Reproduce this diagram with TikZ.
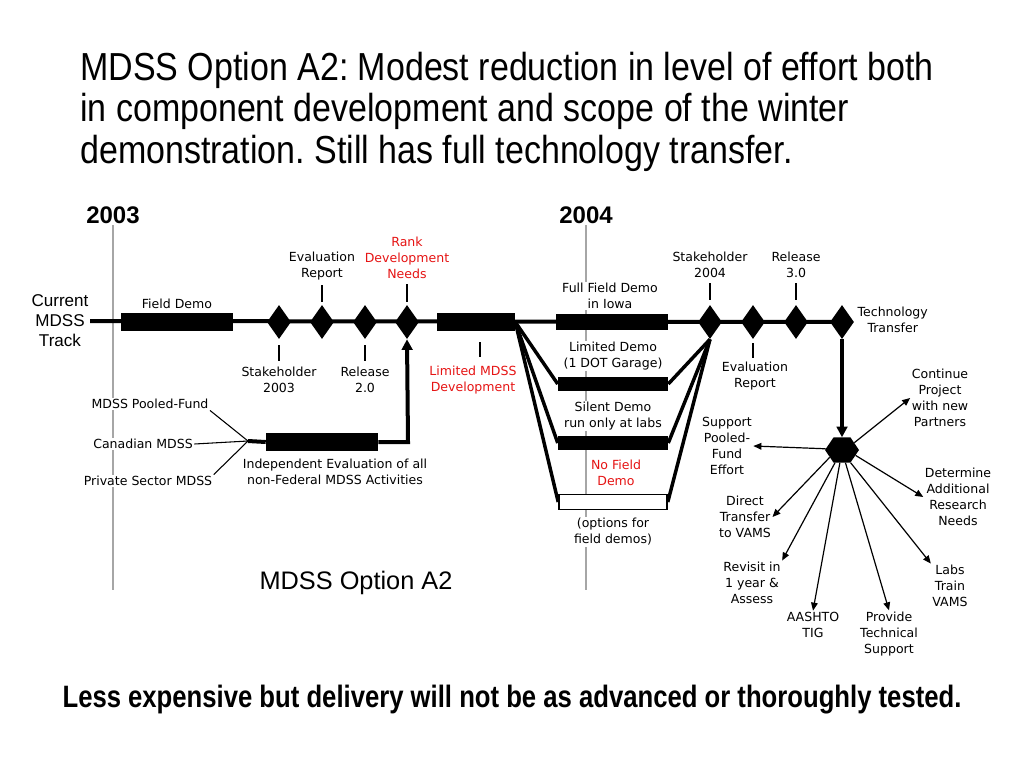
\documentclass[tikz,border=0pt]{standalone}
\usepackage{fontspec}
\setmainfont{Liberation Sans}
\newfontfamily\lblfont{DejaVu Sans}
\newfontfamily\titlefont[FakeStretch=0.87]{Liberation Sans}
\newfontfamily\bottomfont[FakeStretch=0.83]{Liberation Sans}
\usetikzlibrary{arrows.meta,shapes.geometric,backgrounds}
\definecolor{lblred}{RGB}{230,20,20}
\frenchspacing
\begin{document}
\begin{tikzpicture}[x=0.75pt,y=-0.75pt,
  lbl/.style={font=\lblfont\fontsize{9.4}{12}\selectfont, align=center, inner sep=1pt, fill=white},
  redlbl/.style={lbl, text=lblred},
  tracks/.style={line width=3pt},
  bar/.style={rectangle, fill=black, draw=none, inner sep=0pt, minimum height=13.5pt},
  dia/.style={diamond, fill=black, inner sep=0pt, minimum width=18pt, minimum height=25.5pt},
  tick/.style={line width=1pt},
  yearline/.style={gray!70, line width=0.9pt},
  funnel/.style={line width=2.6pt},
  spoke/.style={line width=0.9pt, -{Triangle[length=6pt,width=5pt]}},
  titletext/.style={font=\titlefont\fontsize{29.3}{32}\selectfont, inner sep=0pt, anchor=base west},
  year/.style={font=\bfseries\fontsize{18}{20}\selectfont, inner sep=1pt}
]
\useasboundingbox (0,0) rectangle (1024,768);

% title
\node[titletext] (t1) at (80,80) {MDSS Option A2: Modest reduction in level of effort both};
\node[titletext] (t2) at (80,121) {in component development and scope of the winter};
\node[titletext] (t3) at (80,163) {demonstration. Still has full technology transfer.};

% years
\node[year] (y03) at (113,215) {2003};
\node[year] (y04) at (586,215) {2004};
\coordinate (y03end) at (113,590);
\coordinate (y04end) at (586,590);

% track label
\node[font=\fontsize{12.8}{15}\selectfont, align=center, inner sep=1pt] (cur) at (60,321) {Current\\MDSS\\Track};

% main track elements
\node[bar, minimum width=84pt] (fd) at (177,322) {};
\node[lbl] (fdl) at (177,304) {Field Demo};
\node[dia] (s03) at (279,322) {};
\node[lbl] (s03l) at (279,380) {Stakeholder\\2003};
\node[dia] (er1) at (322,322) {};
\node[lbl] (er1l) at (322,266) {Evaluation\\Report};
\node[dia] (r20) at (365,322) {};
\node[lbl] (r20l) at (365,380) {Release\\2.0};
\node[dia] (rank) at (407,322) {};
\node[redlbl] (rankl) at (407,258) {Rank\\Development\\Needs};
\node[bar, minimum width=58.5pt] (lmd) at (476,322) {};
\node[redlbl] (lmdl) at (473,380) {Limited MDSS\\Development};
\node[bar, minimum width=84pt, minimum height=12pt] (ffd) at (612,322) {};
\node[lbl] (ffdl) at (610,296) {Full Field Demo\\in Iowa};
\node[dia] (s04) at (710,322) {};
\node[lbl] (s04l) at (710,265) {Stakeholder\\2004};
\node[dia] (er2) at (753,322) {};
\node[lbl] (er2l) at (755,376) {Evaluation\\Report};
\node[dia] (r30) at (796,322) {};
\node[lbl] (r30l) at (796,265) {Release\\3.0};
\node[dia] (tt) at (842,322) {};
\node[lbl, align=center, anchor=west] (ttl) at (856,320) {Technology\\Transfer};

% ticks
\draw[tick] (279,345) -- (279,361);
\draw[tick] (322,285) -- (322,302);
\draw[tick] (365,345) -- (365,361);
\draw[tick] (407,284) -- (407,302);
\draw[tick] (480,342) -- (480,357);
\draw[tick] (710,283) -- (710,300);
\draw[tick] (796,283) -- (796,300);
\draw[tick] (753,343) -- (753,358);

% funnel
\node[lbl] (ldl) at (613,356) {Limited Demo\\(1 DOT Garage)};
\node[bar, minimum width=82.5pt, minimum height=10pt] (ldb) at (613,384) {};
\node[lbl] (sdl) at (613,416) {Silent Demo\\run only at labs};
\node[bar, minimum width=82.5pt, minimum height=10.5pt] (sdb) at (613,443) {};
\node[redlbl, fill=none] (nfd) at (616,473) {No Field\\Demo};
\node[rectangle, draw=black, fill=white, line width=1.2pt, inner sep=0pt, minimum width=81pt, minimum height=11pt] (wb) at (613,502) {};
\node[lbl] (opt) at (613,532) {(options for\\field demos)};

% left sources
\node[lbl] (pf) at (150,404) {MDSS Pooled-Fund};
\node[lbl] (can) at (143,444) {Canadian MDSS};
\node[lbl] (ps) at (148,481) {Private Sector MDSS};
\coordinate (J) at (248,441);
\node[bar, minimum width=84pt] (ie) at (322,442) {};
\node[lbl] (iel) at (335,472) {Independent Evaluation of all\\non-Federal MDSS Activities};
\coordinate (bend) at (408,442);

\draw[line width=0.8pt] (pf.south east) -- (J);
\draw[line width=0.8pt] (can.east) -- (J);
\draw[line width=0.8pt] (ps.north east) -- (J);
\draw[tracks] (J) -- (ie.west);
\draw[tracks, -{Triangle[length=8pt,width=8pt]}] (ie.east) -- (bend) -- (rank.south);

% technology transfer
\node[regular polygon, regular polygon sides=6, fill=black, inner sep=0pt, minimum size=25.5pt, yscale=0.85] (hx) at (842,450) {};
\draw[tracks, -{Triangle[length=8pt,width=8pt]}] (tt.south) -- (hx.north);

\node[lbl] (cp) at (940,398) {Continue\\Project\\with new\\Partners};
\node[lbl] (sp) at (727,446) {Support\\Pooled-\\Fund\\Effort};
\node[lbl] (da) at (958,497) {Determine\\Additional\\Research\\Needs};
\node[lbl] (dt) at (745,517) {Direct\\Transfer\\to VAMS};
\node[lbl] (rv) at (752,583) {Revisit in\\1 year \&\\Assess};
\node[lbl] (aa) at (813,625) {AASHTO\\TIG};
\node[lbl] (pt) at (889,634) {Provide\\Technical\\Support};
\node[lbl] (lt) at (950,586) {Labs\\Train\\VAMS};

\draw[spoke] (hx.35) -- (cp.west);
\draw[spoke] (hx.175) -- (sp.east);
\draw[spoke] (hx.-25) -- (da.west);
\draw[spoke] (hx.215) -- (dt.east);
\draw[spoke] (hx.245) -- (rv.north east);
\draw[spoke] (hx.262) -- (aa.north);
\draw[spoke] (hx.283) -- (pt.north);
\draw[spoke] (hx.300) -- (lt.north west);

% caption
\node[font=\fontsize{19}{22}\selectfont, inner sep=0pt] (cap) at (356,583) {MDSS Option A2};
\node[font=\bottomfont\bfseries\fontsize{23.2}{26}\selectfont, inner sep=0pt] (bottom) at (512,700) {Less expensive but delivery will not be as advanced or thoroughly tested.};

% background lines
\begin{scope}[on background layer]
  \fill[white] (0,0) rectangle (1024,768);
  \draw[yearline] (y03.south) -- (y03end);
  \draw[yearline] (y04.south) -- (y04end);
  \draw[tracks] (cur.east) -- (tt.center);
  \draw[funnel] (lmd.east) -- (ldb.west);
  \draw[funnel] (lmd.east) -- (sdb.west);
  \draw[funnel] (lmd.east) -- (wb.west);
  \draw[funnel] (ldb.east) -- (s04.south);
  \draw[funnel] (sdb.east) -- (s04.south);
  \draw[funnel] (wb.east) -- (s04.south);
\end{scope}
\end{tikzpicture}
\end{document}
